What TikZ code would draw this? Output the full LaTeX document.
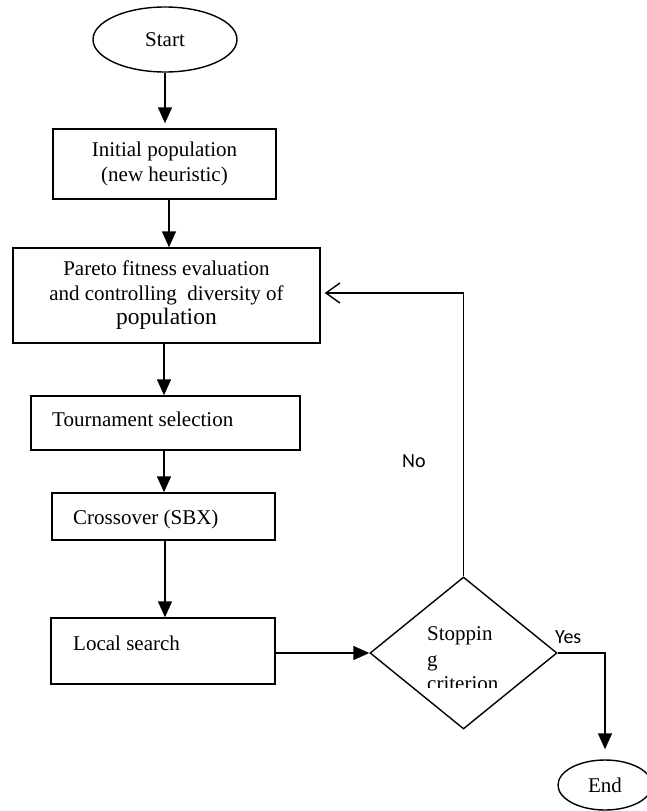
\documentclass[tikz,border=0pt]{standalone}
\usepackage{fontspec}
\setmainfont{Liberation Serif}
\newfontfamily\lblfont{Carlito}
\usetikzlibrary{shapes.geometric,arrows.meta}
\begin{document}
\begin{tikzpicture}[x=1pt,y=-1pt,
  every node/.style={font=\fontsize{21}{24.5}\selectfont},
  box/.style={draw,line width=1.4pt,rectangle,inner sep=0pt},
  oval/.style={draw,line width=1.4pt,ellipse,inner sep=0pt},
  arr/.style={line width=1.4pt,-{Triangle[length=16pt,width=14pt]}},
  back/.style={line width=1.4pt,-{Straight Barb[length=14pt,width=20pt]}},
  lbl/.style={font=\lblfont\fontsize{20}{24}\selectfont, inner sep=0pt, anchor=base west},
  txt/.style={inner sep=0pt, anchor=base west}]
\useasboundingbox (0,0) rectangle (646,811);
\node[oval,minimum width=144pt,minimum height=65pt] (start) at (165,39.5) {Start};
\node[box,minimum width=223pt,minimum height=70pt,align=center] (init) at (164.5,164) {Initial population\\(new heuristic)};
\node[box,minimum width=307pt,minimum height=95pt,align=center] (pareto) at (166.5,295.5) {Pareto fitness evaluation\\and controlling\ \ diversity of\\{\fontsize{23.5}{24}\selectfont population}};
\node[box,minimum width=269pt,minimum height=54pt] (tour) at (165.5,423) {};
\node[txt] (tourt) at (52,426) {Tournament selection};
\node[box,minimum width=223pt,minimum height=47pt] (cross) at (163.5,516.5) {};
\node[txt] (crosst) at (73,524) {Crossover (SBX)};
\node[box,minimum width=224pt,minimum height=66pt] (local) at (163,651) {};
\node[txt] (localt) at (73,650) {Local search};
\node[diamond,draw,line width=1.4pt,minimum width=187pt,minimum height=152pt,inner sep=0pt] (stop) at (463.5,653) {};
\begin{scope}
\clip (420,600) rectangle (560,687);
\node[txt] (s1) at (427,640) {Stoppin};
\node[txt] (s2) at (427,666) {g};
\node[txt] (s3) at (427,690) {criterion};
\end{scope}
\node[oval,minimum width=94pt,minimum height=50pt] (end) at (605,785) {End};
\node[lbl] (no) at (402,467) {No};
\node[lbl] (yes) at (555,643) {Yes};
\draw[arr,shorten >=5pt] (start.south) -- (start.south |- init.north);
\draw[arr] ([xshift=4.5pt]init.south) -- ([xshift=4.5pt]init.south |- pareto.north);
\draw[arr] ([xshift=-2.5pt]pareto.south) -- ([xshift=-2.5pt]pareto.south |- tour.north);
\draw[arr] ([xshift=-1.5pt]tour.south) -- ([xshift=-1.5pt]tour.south |- cross.north);
\draw[arr] ([xshift=1.5pt]cross.south) -- ([xshift=1.5pt]cross.south |- local.north);
\draw[arr] (local.east |- stop.west) -- (stop.west);
\draw[back,shorten >=4pt] (stop.north) |- ([yshift=2.5pt]pareto.east);
\draw[arr,shorten >=10pt] (stop.east) -| (end.north);
\end{tikzpicture}
\end{document}
